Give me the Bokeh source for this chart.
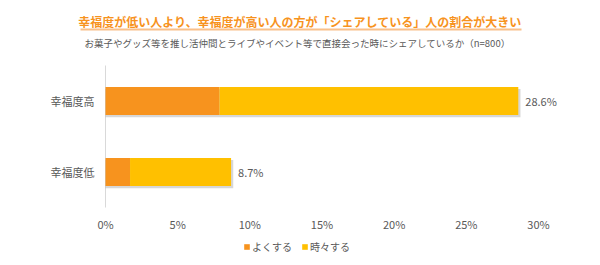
from bokeh.plotting import figure
from bokeh.models import (ColumnDataSource, Range1d, Label, BoxAnnotation, Legend, LegendItem)
from bokeh.transform import dodge
from bokeh.core.properties import value
from bokeh.embed import file_html
from bokeh.resources import INLINE

categories = ["幸福度低", "幸福度高"]
often = [1.7, 7.9]
sometimes = [7.0, 20.7]
totals = [8.7, 28.6]
total_labels = ["8.7%", "28.6%"]
ticks = [0, 5, 10, 15, 20, 25, 30]
tick_labels = ["0%", "5%", "10%", "15%", "20%", "25%", "30%"]
series_names = ["よくする", "時々する"]
title_text = "幸福度が低い人より、幸福度が高い人の方が「シェアしている」人の割合が大きい"
subtitle_text = "お菓子やグッズ等を推し活仲間とライブやイベント等で直接会った時にシェアしているか（n=800）"

FONT = "Noto Sans CJK JP"
ORANGE = "#F7931E"
YELLOW = "#FFC000"
GRAY = "#595959"

W, H = 600, 265
ypos = list(range(len(categories)))

# plot frame covers the full canvas; ranges chosen so 0%..30% spans x=105..538 px
PX_PER_UNIT_X = 433 / 30
PX_PER_BAND = 71
x_start = -105 / PX_PER_UNIT_X
x_end = (W - 105) / PX_PER_UNIT_X
y_end = ypos[-1] + 100.5 / PX_PER_BAND
y_start = ypos[0] - (H - 171.5) / PX_PER_BAND

src = ColumnDataSource(dict(
    y=ypos,
    cat=categories,
    often=often,
    left2=often,
    total=totals,
    shadow_right=[t + 0.15 for t in totals],
    label=total_labels,
))

p = figure(width=W, height=H, x_range=Range1d(x_start, x_end), y_range=Range1d(y_start, y_end),
           output_backend="svg", toolbar_location=None,
           x_axis_location=None, y_axis_location=None,
           min_border_left=0, min_border_right=0, min_border_top=0, min_border_bottom=0)
p.outline_line_color = None
p.background_fill_color = "white"
p.border_fill_color = "white"
p.xgrid.visible = False
p.ygrid.visible = False

BAR_H = 0.395

# vertical axis line spanning the category bands
p.segment(x0=[0], y0=[ypos[0] - 0.5], x1=[0], y1=[ypos[-1] + 0.5],
          line_color="#D9D9D9", line_width=1)

# bar shadow
p.hbar(y=dodge("y", -0.03), left=0, right="shadow_right", height=BAR_H,
       source=src, fill_color="#8c8c8c", fill_alpha=0.35, line_color=None)

r1 = p.hbar(y="y", left=0, right="often", height=BAR_H, source=src,
            fill_color=ORANGE, line_color=None)
r2 = p.hbar(y="y", left="left2", right="total", height=BAR_H, source=src,
            fill_color=YELLOW, line_color=None)

# value labels
p.text(x="total", y="y", text="label", source=src, x_offset=7,
       text_font=value(FONT), text_font_size="11px", text_color=GRAY,
       text_baseline="middle", text_align="left")

# category labels
p.text(x=0, y="y", text="cat", source=src, x_offset=-11,
       text_font=value(FONT), text_font_size="11px", text_color=GRAY,
       text_baseline="middle", text_align="right")

# x tick labels
tick_src = ColumnDataSource(dict(x=ticks, y=[y_start] * len(ticks), t=tick_labels))
p.text(x="x", y="y", text="t", source=tick_src, y_offset=-41.5,
       text_font=value(FONT), text_font_size="11px", text_color=GRAY,
       text_baseline="middle", text_align="center")

legend = Legend(items=[LegendItem(label=series_names[0], renderers=[r1]),
                       LegendItem(label=series_names[1], renderers=[r2])],
                orientation="horizontal", location=(243, 11),
                label_text_font=FONT, label_text_font_size="10px", label_text_color=GRAY,
                glyph_width=7, glyph_height=7, label_standoff=2, spacing=9,
                label_height=14, padding=0, margin=0, border_line_color=None,
                background_fill_alpha=0)
p.add_layout(legend, "center")

p.add_layout(Label(x=299.5, y=H - 21, x_units="screen", y_units="screen", text=title_text,
                   text_font=FONT, text_font_size="12px", text_font_style="bold",
                   text_color=ORANGE, text_align="center", text_baseline="middle"))
p.add_layout(BoxAnnotation(left=80, right=521, top=H - 28, bottom=H - 30,
                           left_units="screen", right_units="screen",
                           top_units="screen", bottom_units="screen",
                           fill_color="#F9C08A", fill_alpha=1, line_color=None))
p.add_layout(Label(x=297, y=H - 42, x_units="screen", y_units="screen", text=subtitle_text,
                   text_font=FONT, text_font_size="9.5px",
                   text_color=GRAY, text_align="center", text_baseline="middle"))

open("out.html", "w").write(file_html(p, INLINE))
